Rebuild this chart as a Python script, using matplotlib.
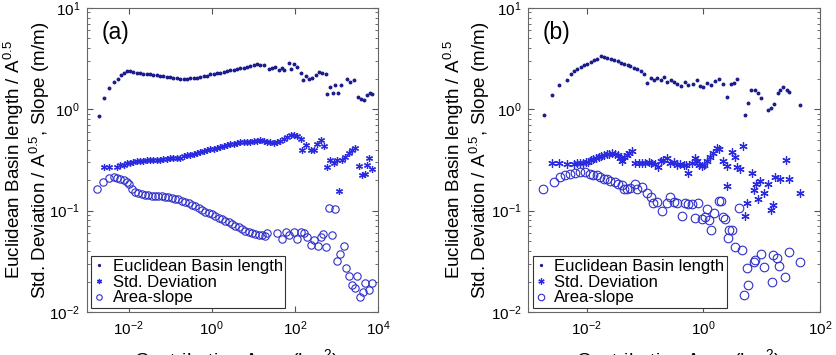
import numpy as np
import matplotlib
matplotlib.use('Agg')
import matplotlib.pyplot as plt
from matplotlib.ticker import LogLocator, NullLocator, FixedLocator

plt.rcParams['font.family'] = ['Liberation Sans', 'DejaVu Sans']
plt.rcParams['mathtext.default'] = 'regular'

# ---- panel (a): log10 of contributing area (km2) and ratios ----
eucl_a_logx = [-2.72, -2.60, -2.46, -2.34, -2.26, -2.19, -2.12, -2.04, -1.96,
               -1.88, -1.80, -1.72, -1.64, -1.56, -1.48, -1.40, -1.32, -1.24, -1.16,
               -1.08, -1.00, -0.92, -0.84, -0.76, -0.67, -0.59, -0.51, -0.43, -0.35,
               -0.27, -0.19, -0.11, -0.03, 0.05, 0.13, 0.21, 0.29, 0.37, 0.45,
               0.53, 0.61, 0.69, 0.77, 0.85, 0.93, 1.01, 1.09, 1.17, 1.25,
               1.39, 1.45, 1.53, 1.61, 1.70, 1.75, 1.86, 1.91, 1.98, 2.06,
               2.14, 2.19, 2.27, 2.34, 2.42, 2.50, 2.58, 2.66, 2.74, 2.78,
               2.86, 2.92, 2.98, 3.04, 3.12, 3.26, 3.34, 3.42, 3.52, 3.60,
               3.66, 3.74, 3.81, 3.87]
eucl_a = [0.85, 1.30, 1.63, 1.85, 1.99, 2.18, 2.28, 2.37, 2.40,
          2.32, 2.30, 2.28, 2.25, 2.23, 2.21, 2.18, 2.16, 2.13, 2.11,
          2.08, 2.07, 2.04, 2.01, 1.99, 1.98, 1.99, 2.01, 2.04, 2.05,
          2.08, 2.11, 2.15, 2.20, 2.23, 2.26, 2.30, 2.35, 2.39, 2.42,
          2.46, 2.50, 2.54, 2.57, 2.61, 2.65, 2.71, 2.78, 2.76, 2.73,
          2.50, 2.57, 2.61, 2.46, 2.54, 2.46, 2.86, 2.50, 2.78, 2.61,
          2.30, 1.95, 2.11, 1.99, 2.02, 2.18, 2.32, 2.28, 2.25, 1.41,
          1.66, 1.46, 1.74, 1.45, 1.72, 1.98, 1.86, 1.93, 1.32, 1.26,
          1.23, 1.37, 1.45, 1.41]

std_a_logx = [-2.60, -2.46, -2.28, -2.20, -2.12, -2.04, -1.96,
              -1.88, -1.80, -1.72, -1.64, -1.56, -1.48, -1.40, -1.32, -1.24, -1.16,
              -1.08, -1.00, -0.92, -0.84, -0.76, -0.67, -0.59, -0.51, -0.43, -0.35,
              -0.27, -0.19, -0.11, -0.03, 0.05, 0.13, 0.21, 0.29, 0.37, 0.45,
              0.53, 0.61, 0.69, 0.77, 0.85, 0.93, 1.01, 1.09, 1.17, 1.25,
              1.33, 1.41, 1.49, 1.57, 1.65, 1.73, 1.82, 1.90, 1.98, 2.06, 2.14,
              2.18, 2.26, 2.38, 2.46, 2.54, 2.62, 2.70, 2.78, 2.86, 2.94,
              3.02, 3.06, 3.14, 3.22, 3.30, 3.38, 3.46, 3.54, 3.62, 3.68,
              3.73, 3.78, 3.86]
std_a = [0.270, 0.267, 0.272, 0.279, 0.285, 0.292, 0.298,
         0.303, 0.307, 0.310, 0.312, 0.315, 0.317, 0.317, 0.319, 0.319, 0.322,
         0.324, 0.327, 0.329, 0.332, 0.334, 0.342, 0.350, 0.355, 0.363, 0.369,
         0.377, 0.386, 0.395, 0.401, 0.407, 0.416, 0.426, 0.435, 0.445, 0.452,
         0.459, 0.466, 0.470, 0.473, 0.477, 0.480, 0.488, 0.491, 0.495, 0.488,
         0.477, 0.470, 0.466, 0.473, 0.484, 0.503, 0.534, 0.554, 0.563, 0.542, 0.503,
         0.400, 0.440, 0.395, 0.395, 0.452, 0.495, 0.432, 0.270, 0.314, 0.296,
         0.314, 0.157, 0.314, 0.339, 0.366, 0.400, 0.419, 0.274, 0.224, 0.232,
         0.281, 0.327, 0.256]

slope_a_logx = [-2.76, -2.62, -2.47, -2.36, -2.28, -2.20, -2.12, -2.04, -1.98, -1.92, -1.84,
                -1.76, -1.68, -1.60, -1.52, -1.44, -1.36, -1.28, -1.20, -1.12, -1.04,
                -0.96, -0.88, -0.80, -0.72, -0.64, -0.55, -0.47, -0.39, -0.31, -0.23,
                -0.15, -0.07, 0.01, 0.09, 0.17, 0.25, 0.33, 0.41, 0.49, 0.57,
                0.65, 0.73, 0.81, 0.89, 0.97, 1.05, 1.13, 1.21, 1.29,
                1.33, 1.57, 1.70, 1.78, 1.86, 1.98, 2.06, 2.14, 2.23, 2.30,
                2.38, 2.46, 2.55, 2.62, 2.68, 2.76, 2.82, 2.96, 2.90, 3.02,
                3.10, 3.18, 3.24, 3.30, 3.38, 3.44, 3.50, 3.57, 3.64, 3.70,
                3.78, 3.86]
slope_a = [0.162, 0.192, 0.212, 0.216, 0.212, 0.207, 0.200, 0.192, 0.182, 0.162, 0.153,
           0.148, 0.145, 0.143, 0.142, 0.141, 0.140, 0.139, 0.138, 0.137, 0.135,
           0.133, 0.131, 0.129, 0.125, 0.121, 0.118, 0.114, 0.110, 0.106, 0.102,
           0.098, 0.0945, 0.0917, 0.0883, 0.085, 0.0818, 0.0788, 0.0765, 0.0736, 0.0709,
           0.0683, 0.0652, 0.0628, 0.0609, 0.0596, 0.0582, 0.0574, 0.0569, 0.0565,
           0.0605, 0.0596, 0.0520, 0.0619, 0.0574, 0.0619, 0.0520, 0.0619, 0.0596, 0.0553,
           0.0457, 0.0512, 0.0447, 0.0544, 0.0587, 0.0440, 0.1050, 0.1027, 0.0574, 0.0318,
           0.0373, 0.0447, 0.0269, 0.0226, 0.0185, 0.0171, 0.0226, 0.0142, 0.0159, 0.0192,
           0.0165, 0.0192]

# ---- panel (b) ----
eucl_b_logx = [-2.74, -2.60, -2.47, -2.34, -2.27, -2.22, -2.16, -2.10, -2.05, -1.99,
               -1.93, -1.87, -1.82, -1.76, -1.70, -1.65, -1.59, -1.53, -1.47, -1.42,
               -1.36, -1.30, -1.25, -1.19, -1.13, -1.07, -1.02, -0.96, -0.90, -0.85,
               -0.79, -0.73, -0.67, -0.62, -0.56, -0.50, -0.45, -0.39, -0.31, -0.26,
               -0.18, -0.11, -0.06, 0.00, 0.06, 0.13, 0.20, 0.26, 0.33, 0.41,
               0.47, 0.53, 0.58, 0.71, 0.77, 0.81, 0.89, 0.93, 0.98, 1.11,
               1.15, 1.21, 1.27, 1.31, 1.36, 1.43, 1.47, 1.65]
eucl_b = [0.87, 1.37, 1.72, 1.96, 2.20, 2.39, 2.50, 2.61, 2.71, 2.82,
          2.93, 3.04, 3.16, 3.33, 3.28, 3.20, 3.11, 3.04, 2.97, 2.88,
          2.82, 2.76, 2.67, 2.57, 2.50, 2.39, 2.25, 1.83, 2.05, 1.96,
          2.05, 1.93, 2.08, 1.86, 1.96, 1.86, 1.79, 1.70, 1.86, 1.75,
          1.79, 1.93, 1.70, 1.66, 1.83, 1.75, 1.90, 2.00, 1.79, 1.32,
          1.79, 1.83, 2.00, 0.87, 1.16, 1.54, 1.56, 1.46, 1.29, 0.98,
          1.02, 1.12, 1.45, 1.54, 1.64, 1.54, 1.48, 1.11]

std_b_logx = [-2.60, -2.47, -2.33, -2.22, -2.16, -2.11, -2.07, -2.02, -1.98, -1.93,
              -1.89, -1.84, -1.79, -1.75, -1.70, -1.66, -1.61, -1.57, -1.52, -1.47,
              -1.43, -1.39, -1.36, -1.31, -1.27, -1.23,
              -1.17, -1.11, -1.06, -1.00, -0.94, -0.89, -0.83, -0.77, -0.73, -0.69,
              -0.63, -0.57, -0.51, -0.46, -0.40, -0.34, -0.30, -0.26, -0.20, -0.15,
              -0.11, -0.07, -0.03, 0.01, 0.06, 0.11, 0.17, 0.23, 0.27, 0.33,
              0.40, 0.49, 0.54, 0.58, 0.63, 0.67,
              0.40, 0.71, 0.75, 0.83, 0.87, 0.90, 0.94, 0.97, 1.03, 1.11,
              1.15, 1.20, 1.23, 1.31, 1.42, 1.47, 1.65]
std_b = [0.292, 0.292, 0.287, 0.287, 0.292, 0.294, 0.298, 0.300, 0.305, 0.315,
         0.322, 0.334, 0.339, 0.344, 0.352, 0.358, 0.360, 0.366, 0.360, 0.352,
         0.327, 0.310, 0.339, 0.352, 0.371, 0.386,
         0.292, 0.292, 0.296, 0.296, 0.303, 0.296, 0.287, 0.270, 0.310, 0.315,
         0.334, 0.296, 0.303, 0.281, 0.287, 0.281, 0.281, 0.236, 0.292, 0.334,
         0.310, 0.281, 0.275, 0.281, 0.310, 0.339, 0.366, 0.410, 0.404, 0.310,
         0.275, 0.380, 0.339, 0.270, 0.260, 0.432,
         0.174, 0.088, 0.119, 0.236, 0.161, 0.185, 0.129, 0.197, 0.150, 0.182,
         0.101, 0.113, 0.215, 0.203, 0.319, 0.203, 0.148]

slope_b_logx = [-2.75, -2.56, -2.46, -2.37, -2.29, -2.20, -2.11, -2.03, -1.94, -1.89,
                -1.83, -1.77, -1.71, -1.66, -1.60, -1.51, -1.46, -1.40, -1.36, -1.31,
                -1.26, -1.18, -1.13, -1.06, -0.97, -0.89, -0.86, -0.80, -0.71, -0.63,
                -0.57, -0.51, -0.46, -0.37, -0.31, -0.26, -0.20, -0.14, -0.10, -0.03,
                0.03, 0.06, 0.10, 0.13, 0.18, 0.26, 0.30, 0.33, 0.37, 0.43,
                0.49, 0.42, 0.54, 0.61, 0.66, 0.70, 0.74, 0.77, 0.86, 0.89,
                0.98, 1.03, 1.17, 1.20, 1.26, 1.30, 1.40, 1.47, 1.65]
slope_b = [0.165, 0.192, 0.216, 0.224, 0.229, 0.236, 0.240, 0.238, 0.232, 0.227,
           0.224, 0.216, 0.207, 0.203, 0.197, 0.192, 0.185, 0.178, 0.165, 0.163,
           0.169, 0.185, 0.162, 0.172, 0.150, 0.137, 0.118, 0.122, 0.099, 0.120,
           0.137, 0.122, 0.118, 0.088, 0.120, 0.116, 0.116, 0.084, 0.120, 0.082,
           0.087, 0.103, 0.081, 0.064, 0.094, 0.125, 0.125, 0.087, 0.082, 0.064,
           0.064, 0.054, 0.044, 0.105, 0.041, 0.0147, 0.027, 0.0185, 0.031, 0.0325,
           0.0373, 0.0275, 0.0199, 0.0364, 0.0338, 0.0284, 0.0223, 0.0393, 0.0313]

labels = ['Euclidean Basin length', 'Std. Deviation', 'Area-slope']
ylab = 'Euclidean Basin length / A$^{0.5}$\nStd. Deviation / A$^{0.5}$, Slope (m/m)'

dot_col = '#1c1c8c'
star_col = '#2a2ae0'
circ_col = '#3030c8'
asterisk = (6, 2, 0)

fig = plt.figure(figsize=(8.36, 3.55), dpi=100)
ax_a = fig.add_axes([0.104, 0.121, 0.348, 0.857])
ax_b = fig.add_axes([0.632, 0.121, 0.349, 0.857])

panels = [
    (ax_a, eucl_a_logx, eucl_a, std_a_logx, std_a, slope_a_logx, slope_a,
     (1e-3, 1e4), [1e-2, 1e0, 1e2, 1e4], '(a)', -0.119, 5.3, 5.0),
    (ax_b, eucl_b_logx, eucl_b, std_b_logx, std_b, slope_b_logx, slope_b,
     (1e-3, 1e2), [1e-2, 1e0, 1e2], '(b)', -0.123, 6.2, 6.0),
]

for (ax, ex, ey, sx, sy, cx, cy, xlim, xt, tag, ylx, cs, ss) in panels:
    ax.plot(10 ** np.array(ex), ey, linestyle='none', marker='o', ms=1.8,
            mfc=dot_col, mec=dot_col, label=labels[0])
    ax.plot(10 ** np.array(sx), sy, linestyle='none', marker=asterisk, ms=ss,
            mec=star_col, mew=0.9, label=labels[1])
    ax.plot(10 ** np.array(cx), cy, linestyle='none', marker='o', ms=cs,
            mfc='none', mec=circ_col, mew=0.8, label=labels[2])
    ax.set_xscale('log')
    ax.set_yscale('log')
    ax.set_xlim(xlim)
    ax.set_ylim(1e-2, 1e1)
    ax.xaxis.set_major_locator(FixedLocator(xt))
    ax.xaxis.set_minor_locator(NullLocator())
    ax.yaxis.set_major_locator(FixedLocator([1e-2, 1e-1, 1e0, 1e1]))
    ax.yaxis.set_minor_locator(LogLocator(base=10, subs=np.arange(2, 10)))
    ax.tick_params(which='both', direction='in', top=True, right=True,
                   labelsize=11, color='#555555', pad=5)
    ax.tick_params(which='major', length=4)
    ax.tick_params(which='minor', length=2)
    for sp in ax.spines.values():
        sp.set_color('#666666')
        sp.set_linewidth(0.8)
    ax.text(0.05, 0.918, tag, transform=ax.transAxes, fontsize=16.5,
            ha='left', va='center')
    ax.set_ylabel(ylab, fontsize=13.5, linespacing=1.15)
    ax.yaxis.set_label_coords(ylx, 0.5)
    ax.set_xlabel('Contributing Area (km$^2$)', fontsize=14)
    ax.xaxis.set_label_coords(0.514, -0.115)
    leg = ax.legend(loc='lower left', fontsize=12, handlelength=0.7,
                    handletextpad=0.45, borderpad=0.15, labelspacing=0.05,
                    borderaxespad=0.25, fancybox=False, framealpha=1,
                    markerscale=0.75)
    leg.get_frame().set_edgecolor('#333333')
    leg.get_frame().set_linewidth(0.8)

fig.savefig('out.png', dpi=100)
